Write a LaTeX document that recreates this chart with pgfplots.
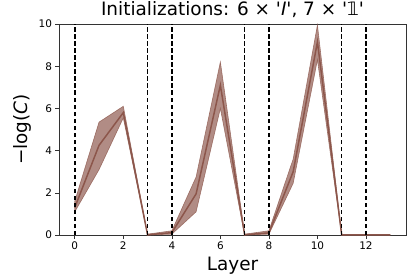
\documentclass[border=0pt]{standalone}
\usepackage{fontspec}
\setmainfont{DejaVu Sans}[Ligatures=TeXOff]
\usepackage{pgfplots}
\pgfplotsset{compat=1.18}
\definecolor{tabbrown}{HTML}{8C564B}
\begin{document}
\begin{tikzpicture}
\begin{axis}[
  scale only axis, width=347bp, height=211bp,
  xmin=-0.65, xmax=13.65, ymin=0, ymax=10,
  xtick={0,2,...,12}, ytick={0,2,...,10},
  tick align=outside, tick pos=left, major tick length=3.5bp,
  tick style={black!80, line width=0.6bp},
  ticklabel style={font=\fontsize{10.5}{12}\selectfont},
  /pgf/number format/assume math mode=true,
  title={Initializations: 6 × '\textit{I}', 7 × '𝟙'},
  title style={font=\fontsize{18.5}{22}\selectfont, yshift=-3bp},
  xlabel={Layer}, ylabel={−log(\textit{C})},
  label style={font=\fontsize{18.5}{22}\selectfont},
  axis line style={black!80, line width=0.8bp},
]
\addplot[fill=tabbrown, fill opacity=0.68, draw=tabbrown, draw opacity=0.75, line width=0.6bp] coordinates {
 (0,1.6) (1,5.35) (2,6.1) (3,0.04) (4,0.2) (5,2.75) (6,8.2) (7,0.04) (8,0.2) (9,3.6) (10,9.95) (11,0.02) (12,0.02) (13,0.02)
 (13,0) (12,0) (11,0) (10,8.3) (9,2.45) (8,0.04) (7,0) (6,6.0) (5,1.1) (4,0.04) (3,0) (2,5.55) (1,3.1) (0,1.1)
} -- cycle;
\addplot[tabbrown, line width=1.5bp] coordinates {
 (0,1.3) (1,4.25) (2,5.8) (3,0.01) (4,0.11) (5,1.95) (6,7.1) (7,0.01) (8,0.1) (9,3.0) (10,9.15) (11,0.01) (12,0.01) (13,0.01)
};
\pgfplotsinvokeforeach{0,3,4,7,8,11,12}{
  \addplot[black, line width=1.5bp, dash pattern=on 4.5bp off 2.5bp] coordinates {(#1,0) (#1,10)};
}
\end{axis}
\pgfresetboundingbox
\path[use as bounding box] ([shift={(-59bp,-42bp)}]current axis.south west) rectangle ([shift={(10bp,24bp)}]current axis.north east);
\end{tikzpicture}
\end{document}
